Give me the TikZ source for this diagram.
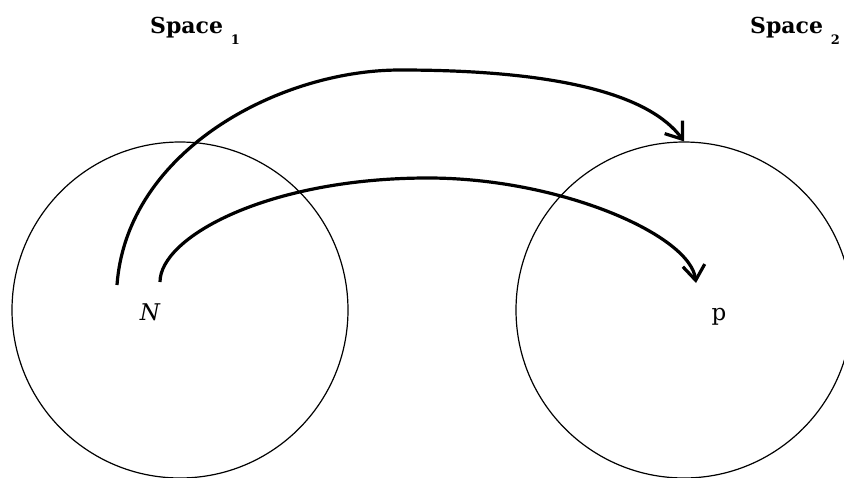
\documentclass[tikz,border=0pt]{standalone}
\usepackage{fontspec}
\setmainfont{DejaVu Serif}
\usetikzlibrary{arrows.meta, positioning}

\begin{document}
\begin{tikzpicture}[x=1pt, y=-1pt,
  set/.style={circle, draw, line width=1.2pt, minimum size=336pt, inner sep=0pt},
  title/.style={anchor=base west, inner sep=0pt, font=\fontsize{22}{26}\selectfont\bfseries},
  elem/.style={anchor=base, inner sep=0pt, font=\fontsize{23}{27}\selectfont},
  arr/.style={line width=3.2pt, -{Straight Barb[length=15pt, width=22pt]}}
]
  \useasboundingbox (0,0) rectangle (844,477);
  % the two spaces
  \node[set] (S1) at (180,310) {};
  \node[set] (S2) at (684,310) {};
  \node[title] (T1) at (150,33) {Space \raisebox{-11pt}{\fontsize{13}{15}\selectfont 1}};
  \node[title] (T2) at (750,33) {Space \raisebox{-11pt}{\fontsize{13}{15}\selectfont 2}};
  % points
  \node[elem, font=\fontsize{23}{27}\selectfont\itshape] (N) at (150,320) {N};
  \node[elem] (p) at (719,320) {p};
  \coordinate (a) at (117,285);
  \coordinate (b) at (160,282);
  \coordinate (q) at (696,283);
  % mappings
  \draw[arr] (a) .. controls (127,150) and (280,70) .. (400,70)
                 .. controls (560,70) and (650,95) .. (S2.north);
  \draw[arr] (b) .. controls (160,237) and (268,178) .. (428,178)
                 .. controls (560,178) and (690,235) .. (q);
\end{tikzpicture}
\end{document}
